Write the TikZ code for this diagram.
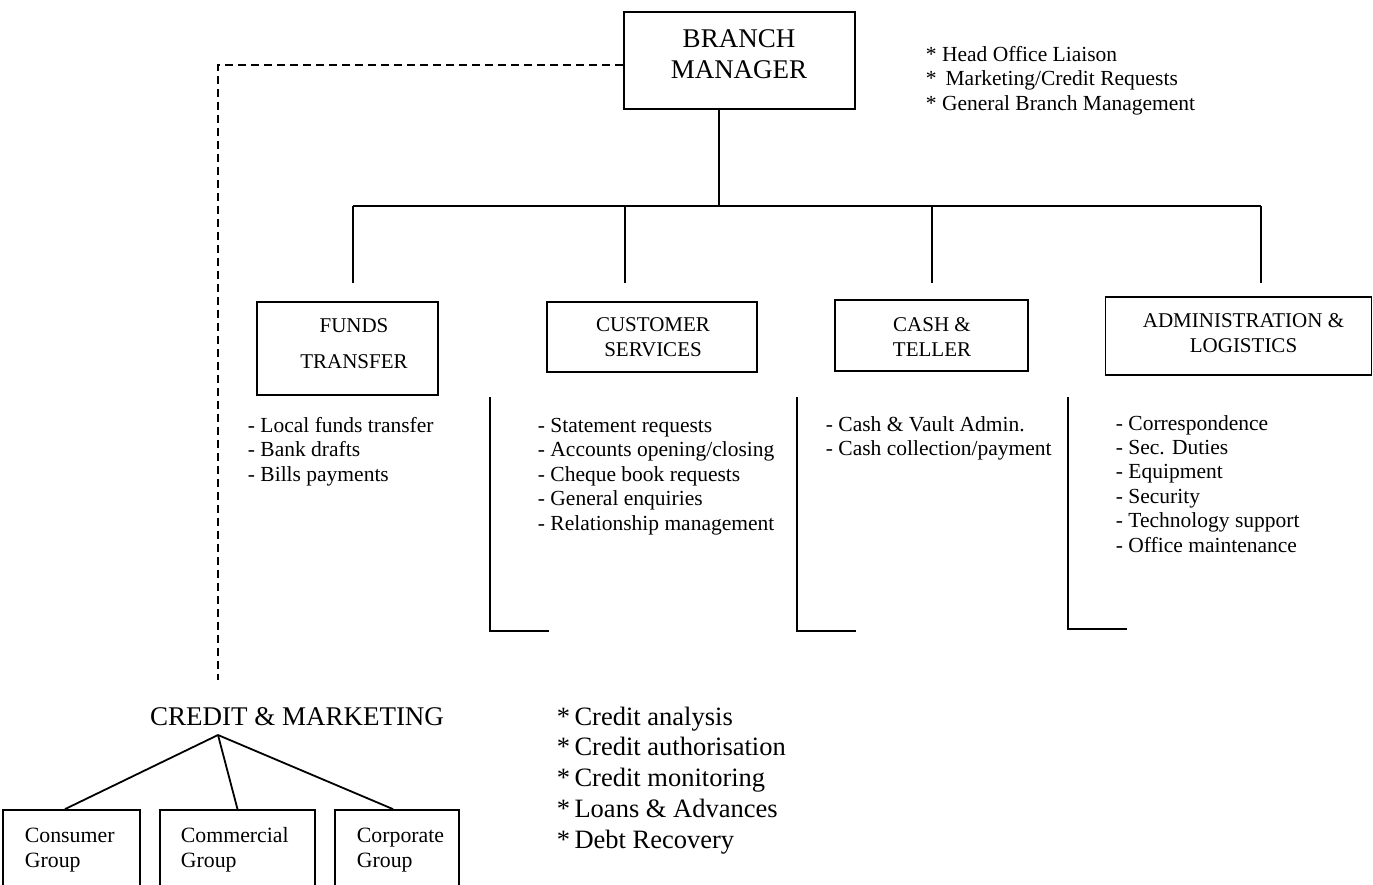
\documentclass[tikz,border=0pt]{standalone}
\usepackage{fontspec}
\setmainfont{Liberation Serif}
\begin{document}
\begin{tikzpicture}[x=1pt, y=-1pt, line width=1.8pt,
  box/.style={draw, line width=1.8pt, inner sep=0pt},
  title/.style={align=center, inner sep=0pt, font=\fontsize{21}{25}\selectfont},
  bigtitle/.style={align=center, inner sep=0pt, font=\fontsize{27}{31}\selectfont},
  duties/.style={align=left, anchor=base west, inner sep=0pt, font=\fontsize{21.5}{24.5}\selectfont},
  notes/.style={align=left, anchor=base west, inner sep=0pt, font=\fontsize{21.5}{24.5}\selectfont},
  credit/.style={align=left, anchor=base west, inner sep=0pt, font=\fontsize{26.5}{30.8}\selectfont},
  grouptxt/.style={align=left, anchor=base west, inner sep=0pt, font=\fontsize{21.8}{25}\selectfont},
  dashline/.style={dash pattern=on 8pt off 5pt}]
\useasboundingbox (0,0) rectangle (1373,884);
\clip (0,0) rectangle (1373,884);

% Branch manager (multi-line texts are placed by the baseline of their last line)
\node[box, minimum width=231pt, minimum height=97pt] (bm) at (739.5,60.5) {};
\node[bigtitle] (bmt) at (739,54.5) {BRANCH\\MANAGER};
\node[notes] (bmnotes) at (925,110) {* Head Office Liaison\\* \,Marketing/Credit Requests\\* General Branch Management};

% Departments
\node[box, minimum width=181pt, minimum height=93pt] (ft) at (347.5,348.5) {};
\node[title, font=\fontsize{21}{36}\selectfont] (ftt) at (354,344) {FUNDS\\TRANSFER};
\node[box, minimum width=210pt, minimum height=70pt] (cs) at (652,337) {};
\node[title] (cst) at (653,337.5) {CUSTOMER\\SERVICES};
\node[box, minimum width=193pt, minimum height=71pt] (ct) at (931.5,335.5) {};
\node[title] (ctt) at (932,337) {CASH \&\\TELLER};
\node[box, minimum width=266pt, minimum height=78pt] (al) at (1238.5,336) {};
\node[title] (alt) at (1243.5,333.5) {ADMINISTRATION \&\\LOGISTICS};

% Reporting lines
\coordinate (bus) at (719,206);
\coordinate (d1) at (353,283);
\coordinate (d2) at (625,283);
\coordinate (d3) at (932,283);
\coordinate (d4) at (1261,283);
\draw (bm.south -| bus) -- (bus);
\draw (d1 |- bus) -- (d4 |- bus);
\foreach \d in {d1,d2,d3,d4} \draw (\d |- bus) -- (\d);

% Duty lists
\node[duties] (ftl) at (247,481) {- Local funds transfer\\- Bank drafts\\- Bills payments};
\node[duties] (csl) at (537,530) {- Statement requests\\- Accounts opening/closing\\- Cheque book requests\\- General enquiries\\- Relationship management};
\node[duties] (ctl) at (825,455.5) {- Cash \& Vault Admin.\\- Cash collection/payment};
\node[duties, font=\fontsize{21.5}{24.4}\selectfont] (all) at (1115,552) {- Correspondence\\- Sec. Duties\\- Equipment\\- Security\\- Technology support\\- Office maintenance};

% Brackets beside the lists
\draw (490,397) |- (549,631);
\draw (797,397) |- (856,631);
\draw (1068,397) |- (1127,629);

% Credit & marketing
\coordinate (dcorner) at (218,65);
\coordinate (dend) at (218,680);
\draw[dashline] (bm.west |- dcorner) -- (dcorner) -- (dend);
\node[bigtitle] (cm) at (297,717) {CREDIT \& MARKETING};
\coordinate (apex) at (218,735);
\node[credit] (cml) at (556,848.2) {*\,Credit analysis\\*\,Credit authorisation\\*\,Credit monitoring\\*\,Loans \& Advances\\*\,Debt Recovery};

\node[box, minimum width=137pt, minimum height=100pt] (cons) at (71.5,860) {};
\node[box, minimum width=155pt, minimum height=100pt] (comm) at (237.5,860) {};
\node[box, minimum width=124pt, minimum height=100pt] (corp) at (397,860) {};
\node[grouptxt] (const) at (24,867) {Consumer\\Group};
\node[grouptxt] (commt) at (180,867) {Commercial\\Group};
\node[grouptxt] (corpt) at (356,867) {Corporate\\Group};
\draw (apex) -- ([xshift=-6.5pt]cons.north);
\draw (apex) -- (comm.north);
\draw (apex) -- ([xshift=-4pt]corp.north);
\end{tikzpicture}
\end{document}
